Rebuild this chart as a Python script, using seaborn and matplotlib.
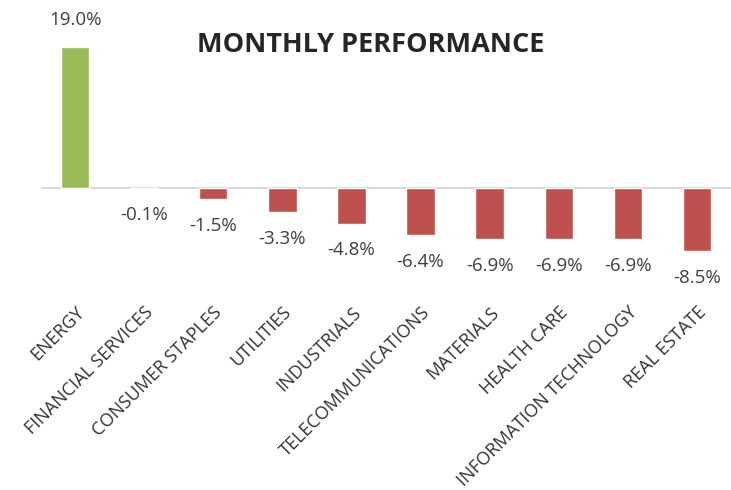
import matplotlib
matplotlib.use("Agg")
import matplotlib.pyplot as plt
import seaborn as sns
import pandas as pd

sectors = ["ENERGY", "FINANCIAL SERVICES", "CONSUMER STAPLES", "UTILITIES", "INDUSTRIALS",
           "TELECOMMUNICATIONS", "MATERIALS", "HEALTH CARE", "INFORMATION TECHNOLOGY", "REAL ESTATE"]
performance = [19.0, -0.1, -1.5, -3.3, -4.8, -6.4, -6.9, -6.9, -6.9, -8.5]
title = "MONTHLY PERFORMANCE"

df = pd.DataFrame({"sector": sectors, "perf": performance})
df["sign"] = ["pos" if v >= 0 else "neg" for v in performance]

sns.set_style("white")
plt.rcParams["font.family"] = ["Open Sans", "DejaVu Sans"]

fig = plt.figure(figsize=(7.31, 4.90), dpi=100)
ax = fig.add_axes([40.5 / 731, 1 - 285 / 490, 691 / 731, 285 / 490])

sns.barplot(data=df, x="sector", y="perf", hue="sign",
            palette={"pos": "#9BBB59", "neg": "#C0504D"},
            width=0.41, legend=False, ax=ax, saturation=1)

ax.set_xlim(-0.5, 9.5)
ax.set_ylim(-(285 - 188) / 7.42, 188 / 7.42)
ax.axhline(0, color="#D9D9D9", lw=1.5, zorder=0)

for s in ax.spines.values():
    s.set_visible(False)
ax.set_yticks([])
ax.set_xlabel("")
ax.set_ylabel("")
ax.tick_params(axis="x", length=0, pad=13)
ax.set_xticks(range(len(sectors)))
ax.set_xticklabels(sectors, rotation=45, ha="right", rotation_mode="anchor",
                   fontsize=13, color="#333333")

for i, v in enumerate(performance):
    off = 3.6 if v >= 0 else -3.6
    ax.text(i, v + off, f"{v:.1f}%", ha="center", va="center",
            fontsize=13.5, color="#404040")

fig.text(371 / 731, 1 - 45 / 490, title, ha="center", va="center",
         fontsize=19.5, fontweight="bold", color="#262626")

fig.savefig("out.png", dpi=100)
